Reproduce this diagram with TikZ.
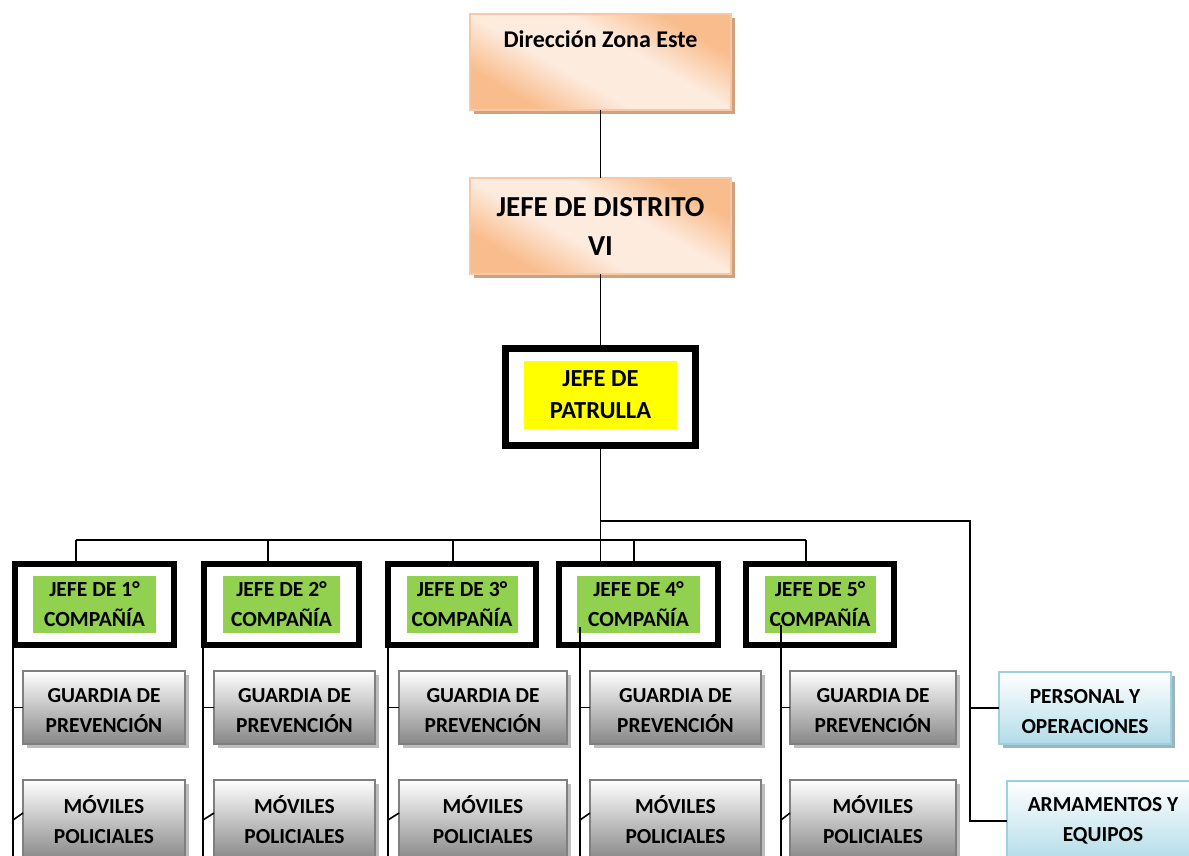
\documentclass[tikz,border=0pt]{standalone}
\usepackage{fontspec}
\setmainfont{Carlito}
\usetikzlibrary{shadows}

\definecolor{orangeDark}{HTML}{F9BC8C}
\definecolor{orangeLight}{HTML}{FDEBDE}
\definecolor{orangeEdge}{HTML}{F8C8A4}
\definecolor{orangeShadow}{HTML}{CFA27F}
\definecolor{grayEdge}{HTML}{7F7F7F}
\definecolor{grayBottom}{HTML}{878787}
\definecolor{grayShadow}{HTML}{BDBDBD}
\definecolor{blueEdge}{HTML}{9DD0DD}
\definecolor{blueBottom}{HTML}{B3DCE8}
\definecolor{blueShadow}{HTML}{9DB4BD}
\definecolor{chiefYellow}{HTML}{FFFF00}
\definecolor{companyGreen}{HTML}{92D050}

% Diagonal peach band used on the two top boxes
\pgfdeclareverticalshading{peachband}{100bp}{%
  color(0bp)=(orangeDark); color(27bp)=(orangeDark); color(42bp)=(orangeLight);
  color(58bp)=(orangeLight); color(73bp)=(orangeDark); color(100bp)=(orangeDark)}

\newcommand{\lift}{\rule{0pt}{21pt}}

\tikzset{
  base/.style={inner sep=0pt, outer sep=0pt, align=center, font=\bfseries},
  headbox/.style={base, draw=orangeEdge, line width=1.5pt,
    shade, shading=peachband, shading angle=-30,
    drop shadow={shadow xshift=4pt, shadow yshift=-4pt, fill=orangeShadow, opacity=1},
    minimum width=261pt, minimum height=96pt},
  frame/.style={base, draw=black, fill=white},
  chieftag/.style={base, fill=chiefYellow, font=\bfseries\fontsize{24.5}{32}\selectfont},
  companytag/.style={base, fill=companyGreen, font=\bfseries\fontsize{21.6}{30}\selectfont,
    minimum height=57pt},
  unitbox/.style={base, draw=grayEdge, line width=2pt, top color=white, bottom color=grayBottom,
    drop shadow={shadow xshift=4pt, shadow yshift=-4pt, fill=grayShadow, opacity=1},
    font=\bfseries\fontsize{21.4}{30}\selectfont},
  staffbox/.style={base, draw=blueEdge, line width=2pt, top color=white, bottom color=blueBottom,
    drop shadow={shadow xshift=4pt, shadow yshift=-4pt, fill=blueShadow, opacity=1},
    font=\bfseries\fontsize{21.4}{30}\selectfont},
  link/.style={draw=black, line width=1.6pt}
}

\begin{document}
\begin{tikzpicture}[x=1pt, y=-1pt]
\useasboundingbox (0,0) rectangle (1189,856);

% Upper chain of command
\node[headbox] (dze) at (600.5,62) {};
\node[base, anchor=base, font=\bfseries\fontsize{24}{28}\selectfont] (dzeText) at (600.5,48) {Dirección Zona Este};
\node[headbox, font=\bfseries\fontsize{29}{39}\selectfont] (jdd) at (600.5,226) {JEFE DE DISTRITO\\VI};

% Patrol chief
\node[frame, line width=7pt, minimum width=190pt, minimum height=97pt] (pat) at (600.5,397) {};
\node[chieftag, minimum width=153pt, minimum height=68pt] (patTag) at (600.5,395) {JEFE DE\\PATRULLA};

% Company chiefs
\foreach \n/\cx/\w/\gw in {1/94.5/159/123, 2/281.5/155/117, 3/462/148/111, 4/638.5/159/123, 5/820/148/111}{
  \node[frame, line width=6pt, minimum width=\w pt, minimum height=81pt] (c\n) at (\cx,604.5) {};
  \node[companytag, minimum width=\gw pt] (t\n) at (\cx,604.5) {JEFE DE \n°\\COMPAÑÍA};
}

% Units under each company
\foreach \n/\cx/\w in {1/104/162, 2/294.5/161, 3/483/168, 4/675.5/171, 5/873/166}{
  \node[unitbox, minimum width=\w pt, minimum height=73pt] (gp\n) at (\cx,707.5) {\lift GUARDIA DE\\PREVENCIÓN};
  \node[unitbox, minimum width=\w pt, minimum height=80pt] (mv\n) at (\cx,820) {MÓVILES\\POLICIALES};
}

% Staff sections
\node[staffbox, minimum width=172pt, minimum height=72pt] (po) at (1085,708) {\lift PERSONAL Y\\OPERACIONES};
\node[staffbox, minimum width=192pt, minimum height=80pt] (ae) at (1103,821) {ARMAMENTOS Y\\EQUIPOS};

% Connectors
\coordinate (hub) at (600,521);
\coordinate (rv) at (970,521);
\coordinate (busL) at (76,540);
\coordinate (busR) at (806,540);

\draw[link] (dze.south) -- (jdd.north);
\draw[link] (jdd.south) -- (pat.north);
\draw[link] (pat.south) -- (pat.south |- c4.north);
\draw[link] (hub) -- (rv) -- (rv |- ae.west) -- (ae.west);
\draw[link] (rv |- po.west) -- (po.west);
\draw[link] (busL) -- (busR);
\foreach \n/\dx in {1/76, 2/268, 3/453, 4/634, 5/806}{
  \coordinate (d\n) at (\dx,540);
  \draw[link] (d\n) -- (d\n |- c\n.north);
}

% Vertical feeders to the units
\foreach \n/\vx/\vy in {1/13/648, 2/203/648, 3/388/648, 4/580/627, 5/781/625}{
  \coordinate (vt\n) at (\vx,\vy);
  \coordinate (vb\n) at (\vx,856);
  \draw[link] (vt\n) -- (vb\n);
  \draw[link] (vt\n |- gp\n.west) -- (gp\n.west);
  \draw[link] (vt\n |- mv\n.west) -- ([yshift=7pt]mv\n.west);
}
\end{tikzpicture}
\end{document}
